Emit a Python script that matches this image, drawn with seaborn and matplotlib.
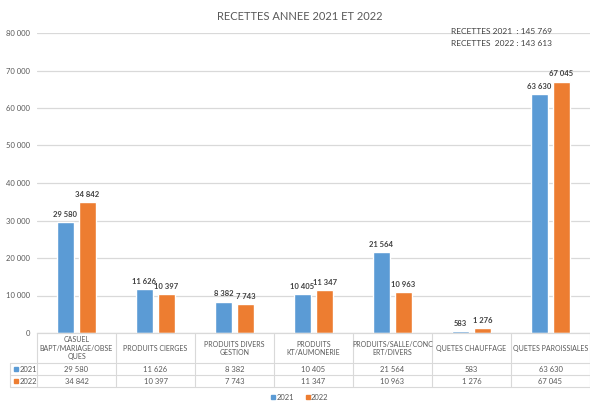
import pandas as pd
import seaborn as sns
from matplotlib import pyplot as plt
from matplotlib.patches import Rectangle

categories = ["CASUEL\nBAPT/MARIAGE/OBSE\nQUES", "PRODUITS CIERGES", "PRODUITS DIVERS\nGESTION",
              "PRODUITS\nKT/AUMONERIE", "PRODUITS/SALLE/CONC\nERT/DIVERS", "QUETES CHAUFFAGE",
              "QUETES PAROISSIALES"]
years = ["2021", "2022"]
v2021 = [29580, 11626, 8382, 10405, 21564, 583, 63630]
v2022 = [34842, 10397, 7743, 11347, 10963, 1276, 67045]
yticks = [0, 10000, 20000, 30000, 40000, 50000, 60000, 70000, 80000]
totals = ["RECETTES 2021  : 145 769", "RECETTES  2022 : 143 613"]

colors = {"2021": "#5B9BD5", "2022": "#ED7D31"}
grey = "#595959"
line_col = "#D9D9D9"


def fmt(v):
    return "{:,}".format(int(v)).replace(",", " ")


df = pd.DataFrame({
    "cat": categories * 2,
    "annee": ["2021"] * len(categories) + ["2022"] * len(categories),
    "val": v2021 + v2022,
})

sns.set_theme(style="white")
plt.rcParams["font.family"] = ["Lato", "DejaVu Sans"]

W, H = 590, 401
fig = plt.figure(figsize=(W / 100, H / 100), dpi=100)

# main plot area in pixels: x 37..590, y 33..333
ax = fig.add_axes([37 / W, (H - 333) / H, 553 / W, 300 / H])
sns.barplot(data=df, x="cat", y="val", hue="annee", palette=colors, order=categories,
            hue_order=years, width=0.56, gap=0.22, legend=False, ax=ax, saturation=1)
ax.set_xlim(-0.5, len(categories) - 0.5)
ax.set_ylim(0, 80000)
ax.set_yticks(yticks)
ax.set_yticklabels([fmt(t) for t in yticks], fontsize=5.5, color=grey)
ax.tick_params(axis="y", length=0, pad=5)
ax.set_xticks([])
ax.set_xlabel("")
ax.set_ylabel("")
ax.yaxis.grid(True, color=line_col, lw=0.9)
ax.set_axisbelow(True)
for s in ["top", "right", "left"]:
    ax.spines[s].set_visible(False)
ax.spines["bottom"].set_color(line_col)
ax.spines["bottom"].set_linewidth(0.9)

for cont in ax.containers:
    ax.bar_label(cont, labels=[fmt(b.get_height()) for b in cont], padding=3,
                 fontsize=5.5, color="#404040", fontweight="bold")

# data table under the plot, in pixel units
tab = fig.add_axes([10 / W, (H - 387) / H, 580 / W, 54 / H])
left = -0.5 - 27 / 79
tab.set_xlim(left, len(categories) - 0.5)
tab.set_ylim(54, 0)
tab.axis("off")
for y in [30, 42, 54]:
    tab.plot([left, len(categories) - 0.5], [y, y], color=line_col, lw=0.8, clip_on=False)
for i in range(len(categories) + 1):
    tab.plot([i - 0.5, i - 0.5], [0, 54], color=line_col, lw=0.8, clip_on=False)
tab.plot([left, left], [30, 54], color=line_col, lw=0.8, clip_on=False)

for i, c in enumerate(categories):
    tab.text(i, 15.5, c, ha="center", va="center", fontsize=5, color=grey, linespacing=1.25)
    tab.text(i, 36, fmt(v2021[i]), ha="center", va="center", fontsize=5.5, color=grey)
    tab.text(i, 48, fmt(v2022[i]), ha="center", va="center", fontsize=5.5, color=grey)

for j, yr in enumerate(years):
    yc = 36 + 12 * j
    tab.add_patch(Rectangle((left + 0.05, yc - 2), 0.05, 4, color=colors[yr], clip_on=False))
    tab.text(left + 0.12, yc, yr, ha="left", va="center", fontsize=5.5, color=grey)

fig.text(300 / W, 1 - 16 / H, "RECETTES ANNEE 2021 ET 2022", ha="center", va="center",
         fontsize=8, color=grey)
fig.text(451 / W, 1 - 31 / H, totals[0], ha="left", va="center", fontsize=6, color="#404040")
fig.text(451 / W, 1 - 43 / H, totals[1], ha="left", va="center", fontsize=6, color="#404040")

handles = [Rectangle((0, 0), 1, 1, color=colors[y]) for y in years]
fig.legend(handles, years, loc="center", bbox_to_anchor=(300 / W, 1 - 397 / H), ncol=2,
           frameon=False, fontsize=5.5, handlelength=0.5, handleheight=0.5,
           handletextpad=0.2, columnspacing=1.5, labelcolor=grey)

fig.savefig("out.png", dpi=100, facecolor="white")
